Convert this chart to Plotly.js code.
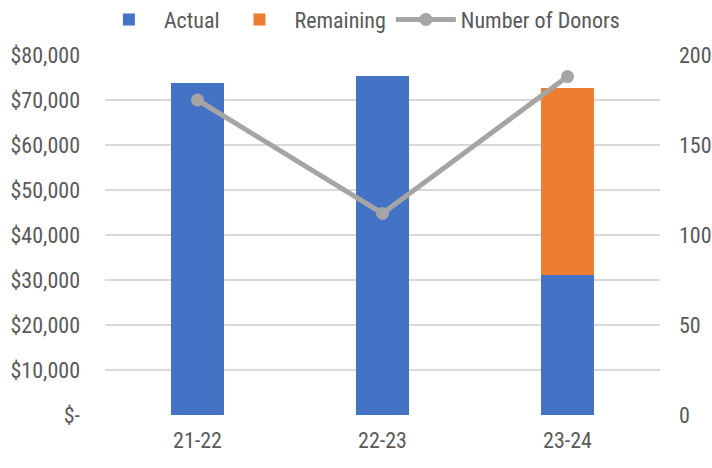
<!DOCTYPE html>
<html>
<head>
<meta charset="utf-8">
<script src="https://cdn.plot.ly/plotly-3.0.1.min.js"></script>
<style>html,body{margin:0;padding:0;background:#fff;}#chart{width:712px;height:468px;}</style>
</head>
<body>
<div id="chart"></div>
<script>
const categories = ["21-22", "22-23", "23-24"];
const actual = [73700, 75300, 31100];
const remaining = [0, 0, 41500];
const donors = [175, 112, 188];
const leftTickVals = [0, 10000, 20000, 30000, 40000, 50000, 60000, 70000, 80000];
const leftTickText = ["$-", "$10,000", "$20,000", "$30,000", "$40,000", "$50,000", "$60,000", "$70,000", "$80,000"];
const rightTickVals = [0, 50, 100, 150, 200];

const FONT = '"Roboto Condensed", "Liberation Sans Narrow", sans-serif';
const TXT = '#595959';
const traces = [
  {type: 'bar', name: 'Actual', x: categories, y: actual, marker: {color: '#4472c4'}, hoverinfo: 'skip'},
  {type: 'bar', name: 'Remaining', x: categories, y: remaining, marker: {color: '#ed7d31'}, hoverinfo: 'skip'},
  {type: 'scatter', mode: 'lines+markers', name: 'Number of Donors', x: categories, y: donors, yaxis: 'y2',
   line: {color: '#a5a5a5', width: 5}, marker: {color: '#a5a5a5', size: 13}, hoverinfo: 'skip'}
];
const layout = {
  width: 712, height: 468,
  margin: {l: 105, r: 52, t: 55, b: 53, autoexpand: false},
  paper_bgcolor: '#fff', plot_bgcolor: '#fff',
  barmode: 'stack', bargap: 0.71,
  font: {family: FONT, size: 22, color: TXT},
  showlegend: true,
  legend: {orientation: 'h', x: -0.02, xanchor: 'left', y: 1.04, yanchor: 'bottom',
           font: {family: FONT, size: 22, color: TXT}, traceorder: 'normal', itemwidth: 60,
           bgcolor: 'rgba(0,0,0,0)'},
  xaxis: {type: 'category', range: [-0.5, 2.5], showgrid: false, zeroline: false, showline: false,
          ticks: '', ticklabelstandoff: 10, tickfont: {family: FONT, size: 22, color: TXT}},
  yaxis: {range: [0, 80000], tickvals: leftTickVals, ticktext: leftTickText, showgrid: true,
          gridcolor: '#d9d9d9', gridwidth: 2, zeroline: false, showline: false, ticks: '',
          ticklabelstandoff: 24, tickfont: {family: FONT, size: 22, color: TXT}},
  yaxis2: {range: [0, 200], tickvals: rightTickVals, overlaying: 'y', side: 'right', showgrid: false,
           zeroline: false, showline: false, ticks: '', ticklabelstandoff: 18,
           tickfont: {family: FONT, size: 22, color: TXT}}
};
Plotly.newPlot('chart', traces, layout, {displayModeBar: false, staticPlot: true});
</script>
</body>
</html>
